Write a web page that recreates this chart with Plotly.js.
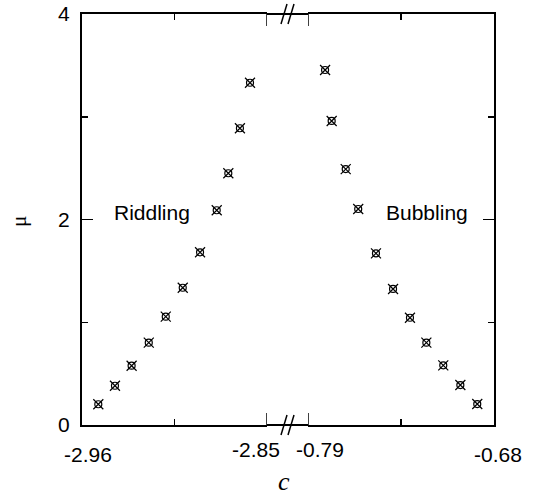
<!DOCTYPE html>
<html><head><meta charset="utf-8">
<script src="https://cdn.plot.ly/plotly-3.0.1.min.js"></script>
<style>html,body{margin:0;padding:0;background:#fff}</style>
</head><body><div id="chart" style="width:541px;height:497px"></div>
<script>
// Riddling branch (left panel)
const riddlingC  = [-2.9503, -2.9404, -2.9305, -2.9203, -2.9102, -2.9001, -2.8898, -2.8799, -2.8730, -2.8661, -2.8601];
const riddlingMu = [0.202, 0.382, 0.577, 0.801, 1.054, 1.336, 1.681, 2.090, 2.450, 2.888, 3.331];
// Bubbling branch (right panel)
const bubblingC  = [-0.7799, -0.7760, -0.7677, -0.7603, -0.7498, -0.7397, -0.7297, -0.7200, -0.7100, -0.6999, -0.6899];
const bubblingMu = [3.455, 2.959, 2.491, 2.102, 1.671, 1.324, 1.044, 0.801, 0.581, 0.389, 0.204];

const leftRange = [-2.96, -2.85];
const rightRange = [-0.79, -0.68];
const leftOuterTick = [-2.96];
const leftOuterText = ['-2.96'];
const leftInnerTick = [-2.85];
const leftInnerText = ['-2.85'];
const leftMinorTicks = [-2.905];
const rightInnerTick = [-0.79];
const rightInnerText = ['-0.79'];
const rightOuterTick = [-0.68];
const rightOuterText = ['-0.68'];
const rightMinorTicks = [-0.735];
const yTickVals = [0, 2, 4];
const yTickText = ['0', '2', '4'];
const yMinorTicks = [1, 3];

const tickFont = {family: 'Liberation Sans, Arial, sans-serif', size: 21, color: '#000'};

function markerTraces(x, y, xa, ya, name) {
  return [
    {x: x, y: y, xaxis: xa, yaxis: ya, type: 'scatter', mode: 'markers', name: name,
     marker: {symbol: 'circle-open', size: 7, color: '#000', line: {width: 1.2, color: '#000'}}, showlegend: false},
    {x: x, y: y, xaxis: xa, yaxis: ya, type: 'scatter', mode: 'markers', name: name,
     marker: {symbol: 'x-thin-open', size: 10, color: '#000', line: {width: 1.2, color: '#000'}}, showlegend: false}
  ];
}
// invisible helper trace so the label-only overlay axes get drawn
function helper(x, y, xa, ya) {
  return {x: x, y: y, xaxis: xa, yaxis: ya, type: 'scatter', mode: 'markers',
          marker: {opacity: 0, size: 1}, hoverinfo: 'skip', showlegend: false};
}

const data = [].concat(
  markerTraces(riddlingC, riddlingMu, 'x', 'y', 'Riddling'),
  markerTraces(bubblingC, bubblingMu, 'x2', 'y2', 'Bubbling'),
  [helper(riddlingC, riddlingMu, 'x3', 'y'), helper(bubblingC, bubblingMu, 'x4', 'y2')]
);

const W = 541, H = 497, L = 82, R = 47, T = 14, B = 72;
const pw = W - L - R, ph = H - T - B;
const leftEnd = 185 / pw, rightStart = 226 / pw;
const gapMid = (leftEnd + rightStart) / 2;
const px = v => v / pw, py = v => v / ph;

function mainX(range, allTicks, labelVals, labelText, minor, anchor, domain, shift) {
  return {
    range: range, domain: domain, anchor: anchor,
    showgrid: false, zeroline: false,
    showline: true, linewidth: 2, linecolor: '#000', mirror: 'ticks',
    ticks: 'inside', ticklen: 12, tickwidth: 1.5, tickcolor: '#000',
    tickvals: allTicks, ticktext: allTicks.map(v => labelVals.includes(v) ? labelText[labelVals.indexOf(v)] : ''),
    tickfont: tickFont, ticklabelstandoff: 10, ticklabelshift: shift,
    minor: {tickvals: minor, ticks: 'inside', ticklen: 6, tickwidth: 1.5, tickcolor: '#000', showgrid: false}
  };
}
function labelX(range, over, anchor, vals, text, shift) {
  return {
    range: range, overlaying: over, anchor: anchor,
    showgrid: false, zeroline: false, showline: false, ticks: '',
    tickvals: vals, ticktext: text, tickfont: tickFont,
    ticklabelstandoff: 10, ticklabelshift: shift
  };
}
function commonY(anchor, side, showLabels) {
  return {
    range: [0, 4], anchor: anchor, side: side,
    showgrid: false, zeroline: false,
    showline: true, linewidth: 2, linecolor: '#000',
    ticks: 'inside', ticklen: 11, tickwidth: 1.5, tickcolor: '#000',
    tickvals: yTickVals, ticktext: yTickText, tickfont: tickFont, ticklabelstandoff: 6,
    showticklabels: showLabels,
    minor: {tickvals: yMinorTicks, ticks: 'inside', ticklen: 6, tickwidth: 1.5, tickcolor: '#000', showgrid: false}
  };
}

const slash = (cx, cy) => ({
  type: 'line', xref: 'paper', yref: 'paper', layer: 'above',
  x0: cx - px(3), y0: cy - py(10), x1: cx + px(3), y1: cy + py(10),
  line: {color: '#000', width: 1.5}
});
// long ticks at the break-side ends of each panel (bottom and top)
const endTick = (xref, xv, bottom) => ({
  type: 'line', xref: xref, yref: 'paper', layer: 'above',
  x0: xv, x1: xv, y0: bottom ? 0 : 1 - py(12), y1: bottom ? py(12) : 1,
  line: {color: '#000', width: 1.5}
});

const layout = {
  width: W, height: H,
  margin: {l: L, r: R, t: T, b: B, pad: 0},
  paper_bgcolor: '#fff', plot_bgcolor: '#fff',
  showlegend: false,
  xaxis: mainX(leftRange, leftOuterTick.concat(leftInnerTick), leftOuterTick, leftOuterText, leftMinorTicks, 'y', [0, leftEnd], 6),
  xaxis2: mainX(rightRange, rightInnerTick.concat(rightOuterTick), rightOuterTick, rightOuterText, rightMinorTicks, 'y2', [rightStart, 1], 4),
  xaxis3: labelX(leftRange, 'x', 'y', leftInnerTick, leftInnerText, -11),
  xaxis4: labelX(rightRange, 'x2', 'y2', rightInnerTick, rightInnerText, 12),
  yaxis: commonY('x', 'left', true),
  yaxis2: Object.assign(commonY('x2', 'right', false), {matches: 'y'}),
  shapes: [
    {type: 'line', xref: 'paper', yref: 'paper', x0: leftEnd, x1: rightStart, y0: 0, y1: 0, line: {color: '#000', width: 2}},
    {type: 'line', xref: 'paper', yref: 'paper', x0: leftEnd, x1: rightStart, y0: 1, y1: 1, line: {color: '#000', width: 2}},
    endTick('x', leftInnerTick[0], true), endTick('x', leftInnerTick[0], false),
    endTick('x2', rightInnerTick[0], true), endTick('x2', rightInnerTick[0], false),
    slash(gapMid - px(3.5), 0), slash(gapMid + px(3.5), 0),
    slash(gapMid - px(3.5), 1), slash(gapMid + px(3.5), 1)
  ],
  annotations: [
    {text: 'Riddling', xref: 'x', yref: 'y', x: -2.9184, y: 2.07, showarrow: false,
     font: {family: 'Liberation Sans, Arial, sans-serif', size: 21, color: '#000'}},
    {text: 'Bubbling', xref: 'x2', yref: 'y2', x: -0.7196, y: 2.07, showarrow: false,
     font: {family: 'Liberation Sans, Arial, sans-serif', size: 21, color: '#000'}},
    {text: '<i>c</i>', xref: 'paper', yref: 'paper', x: 0.5 - px(4), y: py(-56), xanchor: 'center', yanchor: 'middle', showarrow: false,
     font: {family: 'Liberation Serif, Times New Roman, serif', size: 26, color: '#000'}},
    {text: 'μ', xref: 'paper', yref: 'paper', x: px(-63), y: py(203), xanchor: 'center', yanchor: 'middle', showarrow: false, textangle: -90,
     font: {family: 'Liberation Serif, Times New Roman, serif', size: 21, color: '#000'}}
  ]
};

Plotly.newPlot('chart', data, layout, {staticPlot: true, displayModeBar: false});
</script>
</body></html>
